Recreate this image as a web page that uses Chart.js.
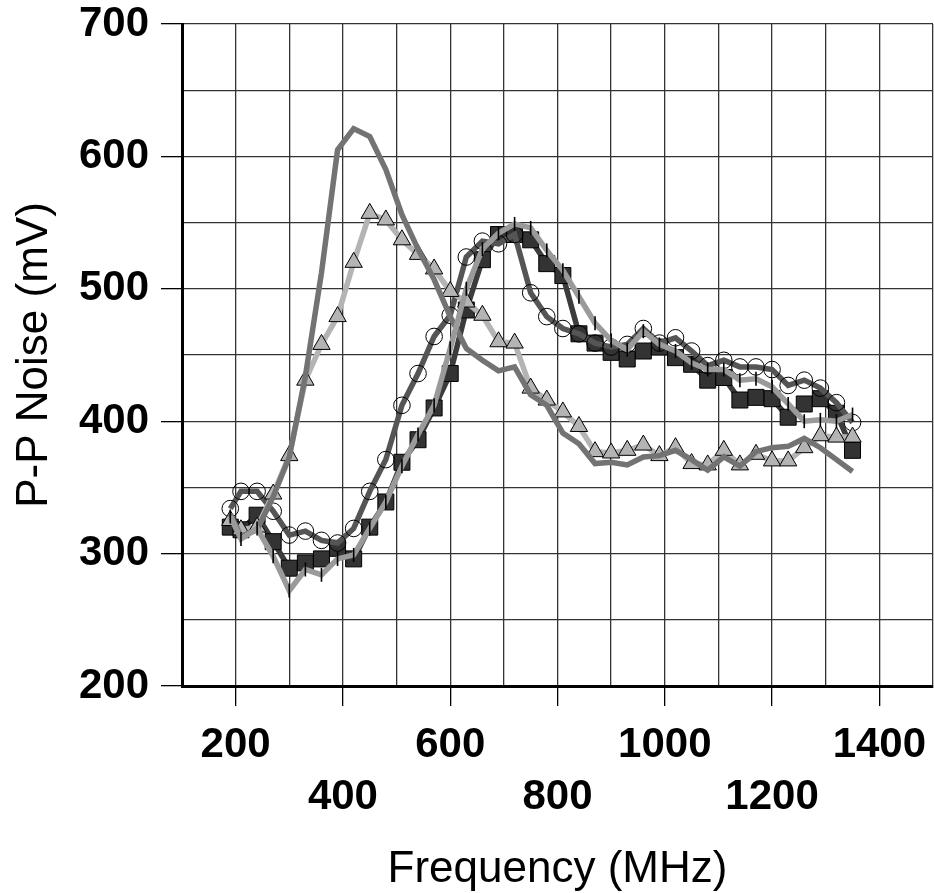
<!DOCTYPE html>
<html>
<head>
<meta charset="utf-8">
<script src="https://cdn.jsdelivr.net/npm/chart.js@4.4.0/dist/chart.umd.min.js"></script>
<style>
  body { margin: 0; background: #fff; }
</style>
</head>
<body>
<canvas id="chart" width="934" height="893"></canvas>
<script>
// frequency points shared by all traces (MHz)
const freqMHz = [190, 210, 240, 270, 300, 330, 360, 390, 420, 450,
                 480, 510, 540, 570, 600, 630, 660, 690, 720, 750,
                 780, 810, 840, 870, 900, 930, 960, 990, 1020, 1050,
                 1080, 1110, 1140, 1170, 1200, 1230, 1260, 1290, 1320, 1350];

// P-P noise (mV), one array per trace
const noisePlain = [330, 313, 318, 343, 373, 434, 512, 605, 621, 615,
                    590, 556, 530, 507, 479, 455, 446, 438, 441, 420,
                    412, 391, 383, 368, 369, 367, 373, 374, 378, 371,
                    363, 373, 366, 377, 380, 381, 387, 380, 371, 362];
const noiseTriangle = [325, 318, 320, 345, 374, 431, 458, 479, 520, 557,
                       552, 537, 526, 515, 498, 490, 480, 460, 459, 425,
                       416, 407, 396, 377, 376, 378, 382, 374, 380, 368,
                       367, 378, 367, 375, 370, 370, 380, 389, 388, 388];
const noiseSquare = [320, 318, 329, 309, 289, 293, 296, 304, 296, 320,
                     339, 369, 386, 410, 436, 484, 522, 541, 541, 537,
                     519, 510, 466, 459, 452, 447, 453, 456, 448, 443,
                     431, 433, 416, 418, 417, 403, 413, 417, 406, 378];
const noiseTick = [328, 311, 319, 298, 272, 288, 284, 296, 299, 319,
                   339, 366, 390, 412, 455, 500, 530, 542, 549, 546,
                   529, 514, 494, 474, 461, 454, 468, 458, 453, 444,
                   439, 439, 431, 432, 426, 413, 400, 401, 400, 405];
const noiseCircle = [334, 347, 347, 332, 314, 317, 310, 308, 319, 347,
                     371, 412, 436, 464, 480, 524, 536, 534, 541, 497,
                     479, 470, 466, 459, 456, 458, 470, 459, 463, 453,
                     442, 446, 441, 441, 439, 427, 431, 425, 414, 399];

function toPoints(vals) {
    return freqMHz.map((f, i) => ({x: f, y: vals[i]}));
}

// staggered x labels: 200/600/1000/1400 on the upper row, 400/800/1200 below
function freqLabel(v) {
    if (v % 400 === 200) return ['', String(v)];
    if (v % 400 === 0) return ['', '', '', String(v)];
    return '';
}

Chart.defaults.font.family = '"Liberation Sans", Arial, sans-serif';
Chart.defaults.color = '#000';

const clear = 'rgba(0,0,0,0)';
const ctx = document.getElementById('chart');

// first dataset is drawn on top
new Chart(ctx, {
    type: 'line',
    data: {
        datasets: [{
            data: toPoints(noiseTick),
            borderColor: '#9a9a9a',
            borderWidth: 5.5,
            pointStyle: 'line',
            rotation: 90,
            pointRadius: 7,
            pointBorderColor: '#000',
            pointBorderWidth: 1.6,
        },{
            data: toPoints(noisePlain),
            borderColor: '#737373',
            borderWidth: 5.5,
            pointRadius: 0,
        },{
            data: toPoints(noiseTriangle),
            borderColor: '#b4b4b4',
            borderWidth: 5.5,
            pointStyle: 'triangle',
            pointRadius: 10,
            pointBackgroundColor: '#b4b4b4',
            pointBorderColor: '#000',
            pointBorderWidth: 1,
        },{
            data: toPoints(noiseCircle),
            borderColor: '#555555',
            borderWidth: 5.5,
            pointStyle: 'circle',
            pointRadius: 8.3,
            pointBackgroundColor: clear,
            pointBorderColor: '#000',
            pointBorderWidth: 1,
        },{
            data: toPoints(noiseSquare),
            borderColor: '#3c3c3c',
            borderWidth: 5.5,
            pointStyle: 'rect',
            pointRadius: 11.3,
            pointBackgroundColor: '#333333',
            pointBorderColor: '#000',
            pointBorderWidth: 1,
        }]
    },
    options: {
        responsive: false,
        animation: false,
        layout: {
            autoPadding: false,
            padding: {top: 24, right: 1, bottom: 0, left: 0}
        },
        plugins: {
            legend: {display: false},
            tooltip: {enabled: false}
        },
        scales: {
            x: {
                type: 'linear',
                min: 100,
                max: 1500,
                ticks: {
                    stepSize: 100,
                    autoSkip: false,
                    maxRotation: 0,
                    padding: 0,
                    font: {size: 42, weight: 'bold', lineHeight: '26px'},
                    callback: freqLabel
                },
                grid: {
                    color: '#333',
                    lineWidth: 1.3,
                    tickLength: 20,
                    tickColor: c => (c.tick && c.tick.value % 200 === 0) ? '#000' : clear
                },
                border: {color: '#000', width: 3},
                title: {
                    display: true,
                    text: 'Frequency (MHz)',
                    font: {size: 44},
                    padding: {top: 0, bottom: -3}
                },
                afterFit: s => {
                    s.height = 207;
                    s.paddingLeft = 0;
                    s.paddingRight = 0;
                }
            },
            y: {
                min: 200,
                max: 700,
                ticks: {
                    stepSize: 50,
                    padding: 12,
                    font: {size: 42, weight: 'bold'},
                    callback: v => v % 100 === 0 ? v : ''
                },
                grid: {
                    color: '#333',
                    lineWidth: 1.3,
                    tickLength: 21,
                    tickColor: c => (c.tick && c.tick.value % 100 === 0) ? '#000' : clear
                },
                border: {color: '#000', width: 3},
                title: {
                    display: true,
                    text: 'P-P Noise (mV)',
                    font: {size: 44},
                    padding: {top: 8, bottom: 0}
                },
                afterFit: s => {
                    s.width = 182;
                    s.paddingTop = 0;
                    s.paddingBottom = 0;
                }
            }
        }
    }
});
</script>
</body>
</html>
